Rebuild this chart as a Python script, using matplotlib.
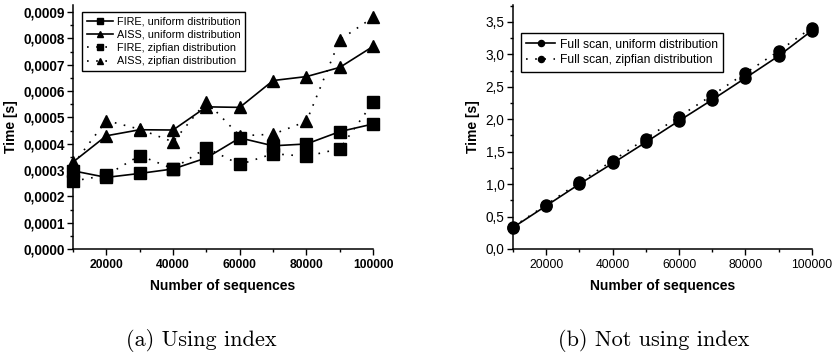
import matplotlib
matplotlib.use('Agg')
import matplotlib.pyplot as plt
from matplotlib.ticker import MultipleLocator, FuncFormatter

# ── Data ──────────────────────────────────────────────────────────────────
n_seq = [10000, 20000, 30000, 40000, 50000, 60000, 70000, 80000, 90000, 100000]

fire_uniform = [0.000297, 0.000272, 0.000287, 0.000304, 0.000346,
                0.000422, 0.000392, 0.000399, 0.000446, 0.000475]
aiss_uniform = [0.000330, 0.000430, 0.000453, 0.000452, 0.000540,
                0.000538, 0.000640, 0.000655, 0.000690, 0.000770]
fire_zipf = [0.000258, 0.000280, 0.000355, 0.000305, 0.000384,
             0.000321, 0.000362, 0.000352, 0.000381, 0.000557]
aiss_zipf = [0.000320, 0.000488, 0.000455, 0.000407, 0.000560,
             0.000430, 0.000436, 0.000485, 0.000795, 0.000880]

scan_uniform = [0.33, 0.665, 1.00, 1.32, 1.645, 1.975, 2.30, 2.635, 2.975, 3.365]
scan_zipf = [0.34, 0.68, 1.03, 1.36, 1.70, 2.04, 2.37, 2.71, 3.05, 3.41]

captions = ['(a) Using index', '(b) Not using index']

plt.rcParams.update({
    'font.family': 'sans-serif',
    'font.sans-serif': ['Liberation Sans', 'DejaVu Sans'],
    'font.size': 9,
    'axes.linewidth': 1.1,
    'axes.spines.top': False,
    'axes.spines.right': False,
})

DOT = (0, (1, 4.5))


def comma_fmt(decimals):
    return FuncFormatter(lambda v, p: f'{v:.{decimals}f}'.replace('.', ','))


def style_axis(ax, bold):
    ax.set_xlim(10000, 100000)
    ax.xaxis.set_major_locator(MultipleLocator(20000))
    ax.xaxis.set_minor_locator(MultipleLocator(10000))
    ax.tick_params(which='major', direction='out', length=4, width=1.0)
    ax.tick_params(which='minor', direction='out', length=2.5, width=1.0)
    ax.tick_params(axis='x', labelsize=8.7, pad=3)
    ax.tick_params(axis='y', labelsize=9.8, pad=2)
    w = 'bold' if bold else 'normal'
    for lab in ax.get_xticklabels() + ax.get_yticklabels():
        lab.set_fontweight(w)
    ax.set_xlabel('Number of sequences', fontsize=10, fontweight='bold', labelpad=6)
    ax.set_ylabel('Time [s]', fontsize=10, fontweight='bold', labelpad=4)


def add_legend(ax, anchor, size):
    leg = ax.legend(loc='upper left', bbox_to_anchor=anchor, borderaxespad=0,
                    fontsize=size, frameon=True, fancybox=False, edgecolor='black',
                    framealpha=1, handlelength=2.4, handletextpad=0.35,
                    labelspacing=0.3, borderpad=0.45, markerscale=0.55)
    leg.get_frame().set_linewidth(1.0)
    return leg


fig = plt.figure(figsize=(8.34, 3.58), dpi=100)
ax1 = fig.add_axes([0.0875, 0.3045, 0.36, 0.6816])
ax2 = fig.add_axes([0.615, 0.3045, 0.3585, 0.6816])

# ── (a) Using index ───────────────────────────────────────────────────────
kw = dict(color='black', lw=1.2, ms=8, clip_on=False)
ax1.plot(n_seq, fire_uniform, '-', marker='s', label='FIRE, uniform distribution', **kw)
ax1.plot(n_seq, aiss_uniform, '-', marker='^', label='AISS, uniform distribution', **kw)
ax1.plot(n_seq, fire_zipf, ls=DOT, marker='s', label='FIRE, zipfian distribution', **kw)
ax1.plot(n_seq, aiss_zipf, ls=DOT, marker='^', label='AISS, zipfian distribution', **kw)
ax1.set_ylim(0, 0.000927)
ax1.yaxis.set_major_locator(MultipleLocator(0.0001))
ax1.yaxis.set_minor_locator(MultipleLocator(0.00005))
ax1.yaxis.set_major_formatter(comma_fmt(4))
style_axis(ax1, bold=True)
add_legend(ax1, (0.03, 0.972), 7.8)

# ── (b) Not using index ───────────────────────────────────────────────────
kw2 = dict(color='black', lw=1.2, ms=8, clip_on=False)
ax2.plot(n_seq, scan_uniform, '-', marker='o', label='Full scan, uniform distribution', **kw2)
ax2.plot(n_seq, scan_zipf, ls=DOT, marker='o', label='Full scan, zipfian distribution', **kw2)
ax2.set_ylim(0, 3.76)
ax2.yaxis.set_major_locator(MultipleLocator(0.5))
ax2.yaxis.set_minor_locator(MultipleLocator(0.25))
ax2.yaxis.set_major_formatter(comma_fmt(1))
style_axis(ax2, bold=False)
add_legend(ax2, (0.027, 0.885), 8.7)

# ── Sub-captions ──────────────────────────────────────────────────────────
for xc, txt in zip([0.241, 0.784], captions):
    fig.text(xc, 0.048, txt, ha='center', va='center', fontsize=16,
             family=['cmr10', 'DejaVu Serif'])

fig.savefig('out.png', dpi=100)
